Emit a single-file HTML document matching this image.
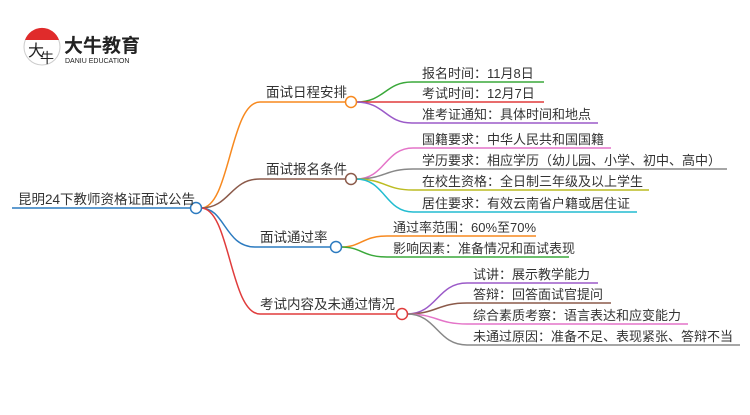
<!DOCTYPE html>
<html><head><meta charset="utf-8"><style>
html,body{margin:0;padding:0;background:#fff;}
svg text{font-family:"Liberation Sans","Noto Sans CJK SC",sans-serif;fill:#333;}
</style></head><body>
<svg width="750" height="410" viewBox="0 0 750 410" xmlns="http://www.w3.org/2000/svg">
<!-- logo -->
<circle cx="42" cy="47" r="18" fill="#fff" stroke="#ccc" stroke-width="1"/>
<path d="M25 40 A18 18 0 0 1 59 40 Z" fill="#e02b2b"/>
<text x="28" y="56" font-size="16" style="fill:#222">大</text>
<text x="40" y="63" font-size="14" style="fill:#222">牛</text>
<text x="64" y="52" font-size="19" font-weight="bold" style="fill:#222">大牛教育</text>
<text x="65" y="63" font-size="7" style="fill:#222">DANIU EDUCATION</text>

<g fill="none" stroke-width="1.5">
<!-- root -->
<path d="M12 208 H190" stroke="#2c7bc0"/>
<path d="M201 208 C230 208 230 102 260 102 H345" stroke="#f7891f"/>
<path d="M201 208 C230 208 230 179 260 179 H345" stroke="#8b5a4a"/>
<path d="M201 208 C225 208 225 247 255 247 H330" stroke="#2c7bc0"/>
<path d="M201 208 C230 208 230 314 260 314 H396" stroke="#e03c3c"/>
<!-- group1 -->
<path d="M356 102 C385 102 385 82 412 82 H544" stroke="#3aa83a"/>
<path d="M356 102 H544" stroke="#e03c3c"/>
<path d="M356 102 C385 102 385 123 412 123 H598" stroke="#9b5ac8"/>
<!-- group2 -->
<path d="M356 179 C385 179 385 148 413 148 H611" stroke="#e474c8"/>
<path d="M356 179 C385 179 385 169 413 169 H727" stroke="#888"/>
<path d="M356 179 C385 179 385 190 413 190 H649" stroke="#bcbc22"/>
<path d="M356 179 C385 179 385 212 413 212 H637" stroke="#22bcd0"/>
<!-- group3 -->
<path d="M341 247 C362 247 362 236 387 236 H536" stroke="#f7891f"/>
<path d="M341 247 C362 247 362 257 387 257 H569" stroke="#3aa83a"/>
<!-- group4 -->
<path d="M407 314 C437 314 437 283 467 283 H598" stroke="#9b5ac8"/>
<path d="M407 314 C437 314 437 303 467 303 H611" stroke="#8b5a4a"/>
<path d="M407 314 C437 314 437 324 467 324 H688" stroke="#e474c8"/>
<path d="M407 314 C437 314 437 345 467 345 H740" stroke="#888"/>
</g>
<g fill="#fff" stroke-width="1.5">
<circle cx="196" cy="208" r="5.5" stroke="#2c7bc0"/>
<circle cx="351" cy="102" r="5.5" stroke="#f7891f"/>
<circle cx="351" cy="179" r="5.5" stroke="#8b5a4a"/>
<circle cx="336" cy="247" r="5.5" stroke="#2c7bc0"/>
<circle cx="402" cy="314" r="5.5" stroke="#e03c3c"/>
</g>
<g font-size="13.5">
<text x="18" y="204">昆明24下教师资格证面试公告</text>
<text x="266" y="97">面试日程安排</text>
<text x="266" y="174">面试报名条件</text>
<text x="260" y="242">面试通过率</text>
<text x="260" y="309">考试内容及未通过情况</text>
</g>
<g font-size="13">
<text x="422" y="78">报名时间：11月8日</text>
<text x="422" y="98">考试时间：12月7日</text>
<text x="422" y="119">准考证通知：具体时间和地点</text>
<text x="422" y="144">国籍要求：中华人民共和国国籍</text>
<text x="422" y="165">学历要求：相应学历（幼儿园、小学、初中、高中）</text>
<text x="422" y="186">在校生资格：全日制三年级及以上学生</text>
<text x="422" y="208">居住要求：有效云南省户籍或居住证</text>
<text x="393" y="232">通过率范围：60%至70%</text>
<text x="393" y="253">影响因素：准备情况和面试表现</text>
<text x="473" y="279">试讲：展示教学能力</text>
<text x="473" y="299">答辩：回答面试官提问</text>
<text x="473" y="320">综合素质考察：语言表达和应变能力</text>
<text x="473" y="341">未通过原因：准备不足、表现紧张、答辩不当</text>
</g>
</svg>
</body></html>
